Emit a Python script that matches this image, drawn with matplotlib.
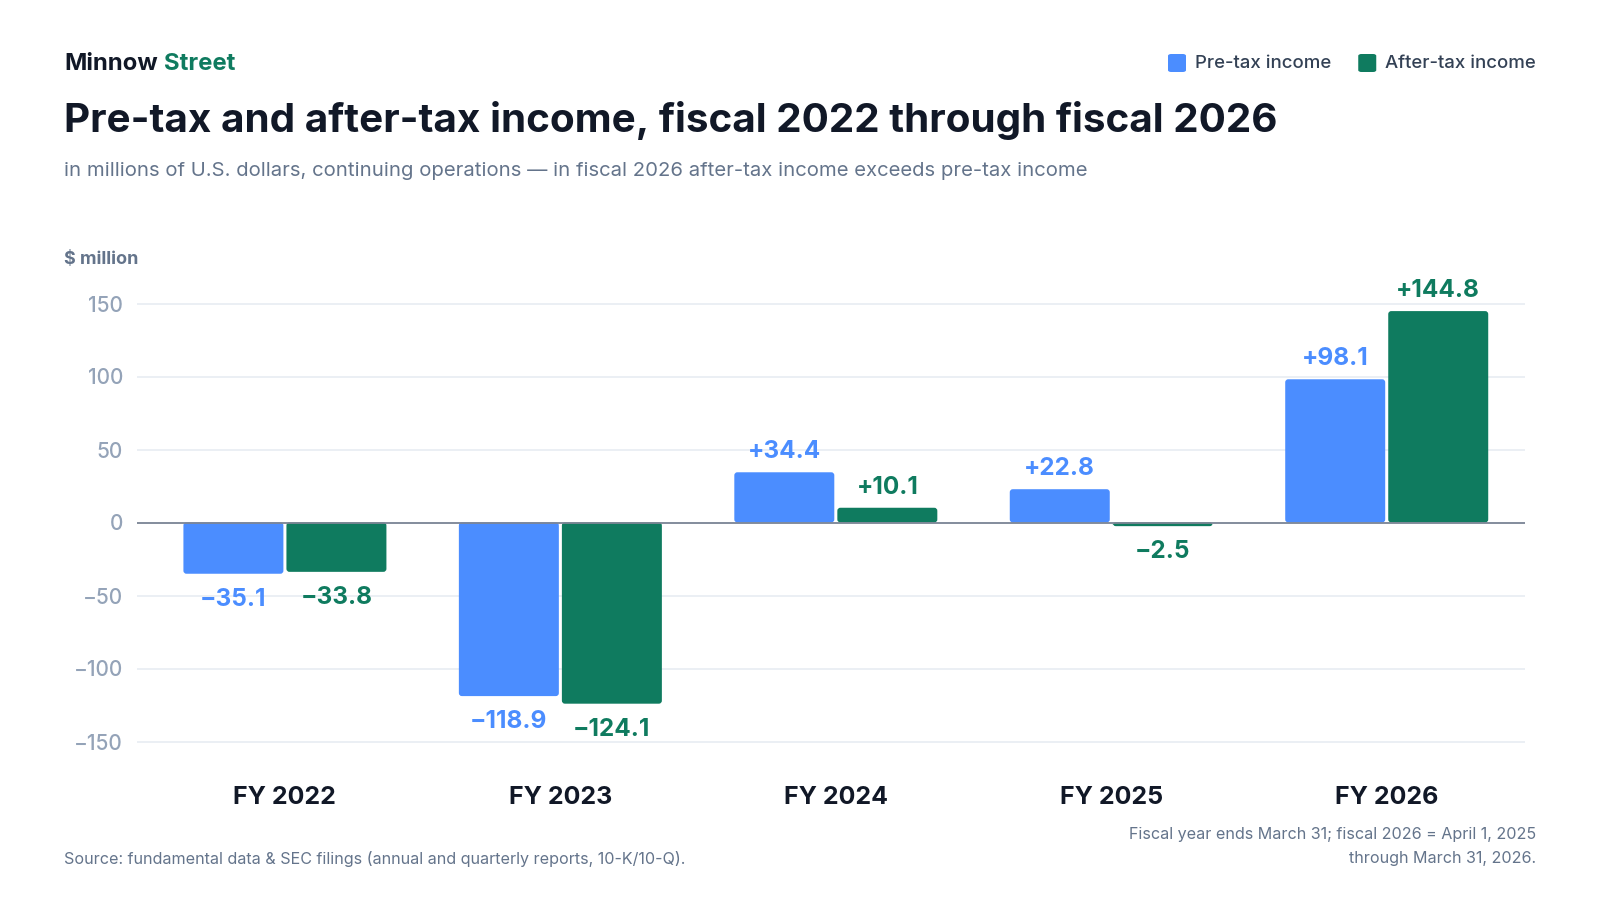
import matplotlib.pyplot as plt
import numpy as np
from matplotlib.patches import FancyBboxPatch
from matplotlib.transforms import blended_transform_factory

plt.rcParams['font.family'] = ['Inter', 'DejaVu Sans']

# data
years = ['FY 2022', 'FY 2023', 'FY 2024', 'FY 2025', 'FY 2026']
pre_tax = [-35.1, -118.9, 34.4, 22.8, 98.1]
after_tax = [-33.8, -124.1, 10.1, -2.5, 144.8]
y_ticks = [-150, -100, -50, 0, 50, 100, 150]

BLUE = '#4B8DFF'
GREEN = '#0F7B5F'
DARK = '#111827'
GREY = '#64748B'
TICK = '#94A3B8'

W, H = 1600, 900
fig = plt.figure(figsize=(16, 9), dpi=100)
fig.patch.set_facecolor('white')


def fx(px):
    return px / W


def fy(py):
    return 1 - py / H


# axes placed so that 0 sits at y=522.5 px, 1.46 px per $ million
zero_px = 522.5
scale = 1.46
ylo, yhi = -160, 160
top_px = zero_px - yhi * scale
bot_px = zero_px - ylo * scale
ax = fig.add_axes([fx(137), fy(bot_px), fx(1525 - 137), (bot_px - top_px) / H])

x = np.arange(len(years))
bw = 0.363
off = 0.187
xunit = 275.5  # px per category
ax.set_xlim(-0.537, 4.502)
ax.set_ylim(ylo, yhi)

# rounded bars
for vals, dx, col in [(pre_tax, -off, BLUE), (after_tax, off, GREEN)]:
    for i, v in enumerate(vals):
        y0 = min(0, v)
        p = FancyBboxPatch((i + dx - bw / 2, y0), bw, abs(v),
                           boxstyle='round,pad=0,rounding_size=0.011',
                           mutation_aspect=xunit / scale,
                           facecolor=col, edgecolor='none', zorder=3)
        ax.add_patch(p)

ax.set_yticks(y_ticks)
ax.grid(axis='y', color='#E8ECF2', linewidth=1.2, zorder=0)
ax.axhline(0, color='#7C8595', linewidth=1.3, zorder=4)
for s in ax.spines.values():
    s.set_visible(False)
ax.tick_params(axis='y', length=0, pad=10, labelsize=15, labelcolor=TICK)
for lab in ax.get_yticklabels():
    lab.set_fontweight('medium')
ax.set_xticks([])

# category labels
trans = blended_transform_factory(ax.transData, fig.transFigure)
for i, yr in enumerate(years):
    fig.text(i, fy(797), yr, transform=trans, ha='center', va='center',
             fontsize=18, fontweight='bold', color=DARK)


def fmt(v):
    return ('+' if v >= 0 else '\u2212') + f'{abs(v):.1f}'


for vals, dx, col in [(pre_tax, -off, BLUE), (after_tax, off, GREEN)]:
    for i, v in enumerate(vals):
        dy = 10 if v >= 0 else -23
        ax.annotate(fmt(v), (i + dx, v), xytext=(0, dy), textcoords='offset points',
                    ha='center', va='baseline', fontsize=17.5, fontweight='bold', color=col)

# header
renderer = fig.canvas.get_renderer()
t = fig.text(fx(64), fy(64), 'Minnow', fontsize=17.2, fontweight='bold', color=DARK, va='center')
bb = t.get_window_extent(renderer)
fig.text(bb.x1 / W + fx(6), fy(64), 'Street', fontsize=17.2, fontweight='bold', color=GREEN, va='center')

fig.text(fx(64), fy(120), 'Pre-tax and after-tax income, fiscal 2022 through fiscal 2026',
         fontsize=29.1, fontweight='bold', color=DARK, va='center')
fig.text(fx(64), fy(171), 'in millions of U.S. dollars, continuing operations \u2014 in fiscal 2026 after-tax income exceeds pre-tax income',
         fontsize=14.6, color=GREY, va='center')
fig.text(fx(64), fy(259), '$ million', fontsize=13, fontweight='bold', color=GREY, va='center')

# legend, built right to left
lx = 1536
for label, col in [('After-tax income', GREEN), ('Pre-tax income', BLUE)]:
    t = fig.text(fx(lx), fy(63), label, fontsize=13.4, fontweight='medium', color='#334155',
                 va='center', ha='right')
    bb = t.get_window_extent(renderer)
    sq_right = bb.x0 - 9
    sq = FancyBboxPatch((fx(sq_right - 18), fy(72)), fx(18), 18 / H,
                        boxstyle='round,pad=0,rounding_size=0.002',
                        transform=fig.transFigure, facecolor=col, edgecolor='none')
    fig.patches.append(sq)
    lx = sq_right - 18 - 27

# footer
fig.text(fx(64), fy(859), 'Source: fundamental data & SEC filings (annual and quarterly reports, 10-K/10-Q).',
         fontsize=11.6, color=GREY, va='center')
fig.text(fx(1536), fy(835), 'Fiscal year ends March 31; fiscal 2026 = April 1, 2025',
         fontsize=11.6, color=GREY, va='center', ha='right')
fig.text(fx(1536), fy(859), 'through March 31, 2026.',
         fontsize=11.6, color=GREY, va='center', ha='right')

fig.savefig('out.png', dpi=100, facecolor='white')
